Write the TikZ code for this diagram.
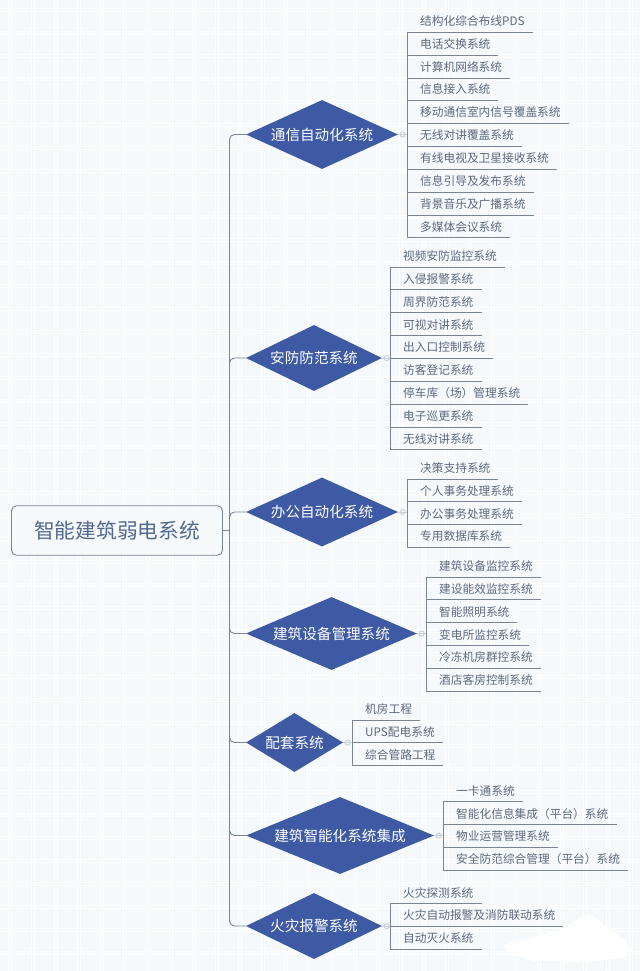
\documentclass[tikz,border=0pt]{standalone}
\usepackage{fontspec}
\newfontfamily\cjk{Noto Sans CJK SC}
\usetikzlibrary{shapes.geometric}
\definecolor{bgc}{HTML}{F5F9FC}
\definecolor{linec}{HTML}{7B8494}
\definecolor{leaftext}{HTML}{5E697E}
\definecolor{roottext}{HTML}{54688F}
\definecolor{rootfill}{HTML}{F6FAFC}
\definecolor{diamondc}{HTML}{3F5AA4}
\definecolor{hubc}{HTML}{C9CFD6}
\tikzset{
  leafnode/.style={font=\cjk\fontsize{11.7pt}{13pt}\selectfont, text=leaftext, inner sep=0pt, anchor=west, text height=9pt, text depth=2pt},
  twig/.style={draw=linec, line width=0.9pt},
  trunkline/.style={draw=linec, line width=0.9pt, rounded corners=5pt},
  hubline/.style={draw=hubc, line width=0.9pt},
  topicnode/.style={shape=diamond, fill=diamondc, text=white, inner sep=0pt, font=\cjk\fontsize{14.6pt}{16pt}\selectfont, shape aspect=2.2},
  rootnode/.style={draw=linec, line width=0.9pt, rounded corners=5pt, fill=rootfill, text=roottext, inner sep=0pt, font=\cjk\fontsize{20.7pt}{23pt}\selectfont, minimum width=211pt, minimum height=49.5pt}
}
\newcommand{\leafitem}[5]{%
  \coordinate (#1u) at (#2,#3);
  \coordinate (#1e) at (#4,#3);
  \node[leafnode] (#1) at ([xshift=13pt,yshift=10pt]#1u) {#5};
  \draw[twig] (#1u) -- (#1e);
}
% name, cx, cy, width, height, text
\newcommand{\topicitem}[6]{%
  \node[topicnode, minimum width=#4pt, minimum height=#5pt] (#1) at (#2,#3) {#6};
  \draw[trunkline] (trunk) |- (#1.west);
}
% topic, first leaf, last leaf
\newcommand{\hubitem}[3]{%
  \draw[hubline] (#1.east) -- (#1.east -| #2u);
  \draw[hubline] ([xshift=4.5pt]#1.east) circle (2.6pt);
  \draw[twig] (#2u) -- (#3u);
}
\begin{document}
\begin{tikzpicture}[x=1pt,y=-1pt]
\useasboundingbox (0,0) rectangle (640,971);
\fill[bgc] (0,0) rectangle (640,971);
\foreach \k in {0,...,28}{
  \draw[white, line width=0.6pt] ({10+23*\k-1.5},0) -- ({10+23*\k-1.5},971);
  \draw[white, line width=0.6pt] ({10+23*\k+1.5},0) -- ({10+23*\k+1.5},971);
}
\foreach \k in {0,...,42}{
  \draw[white, line width=0.6pt] (0,{10+23*\k-1.5}) -- (640,{10+23*\k-1.5});
  \draw[white, line width=0.6pt] (0,{10+23*\k+1.5}) -- (640,{10+23*\k+1.5});
}
% erased patch at the lower right
\fill[white, rounded corners=6pt] (500,946) -- (560,930) -- (590,913) -- (610,930) -- (628,942) -- (628,957) -- (590,962) -- (530,961) -- cycle;

\node[rootnode] (root) at (117,530.5) {智能建筑弱电系统};
\coordinate (trunk) at (229.5,530.5);
\draw[twig] (root.east) -- (trunk);

\topicitem{ta}{322}{134.5}{152}{69}{通信自动化系统}
\topicitem{tb}{314}{358}{136}{66}{安防防范系统}
\topicitem{tc}{322}{512}{152}{69}{办公自动化系统}
\topicitem{td}{331.5}{633.5}{171}{73}{建筑设备管理系统}
\topicitem{te}{294.5}{742.5}{97}{59}{配套系统}
\topicitem{tf}{340}{835.5}{188}{77}{建筑智能化系统集成}
\topicitem{tg}{314}{926}{136}{66}{火灾报警系统}

\leafitem{a1}{407}{32}{533}{结构化综合布线PDS}
\leafitem{a2}{407}{55}{498}{电话交换系统}
\leafitem{a3}{407}{78}{510}{计算机网络系统}
\leafitem{a4}{407}{100.5}{498}{信息接入系统}
\leafitem{a5}{407}{123.5}{569}{移动通信室内信号覆盖系统}
\leafitem{a6}{407}{146}{522}{无线对讲覆盖系统}
\leafitem{a7}{407}{169}{557}{有线电视及卫星接收系统}
\leafitem{a8}{407}{192}{534}{信息引导及发布系统}
\leafitem{a9}{407}{215}{534}{背景音乐及广播系统}
\leafitem{a10}{407}{237.5}{510}{多媒体会议系统}
\hubitem{ta}{a1}{a10}

\leafitem{b1}{390}{267}{505}{视频安防监控系统}
\leafitem{b2}{390}{289.5}{482}{入侵报警系统}
\leafitem{b3}{390}{312.5}{482}{周界防范系统}
\leafitem{b4}{390}{335.5}{482}{可视对讲系统}
\leafitem{b5}{390}{358}{493}{出入口控制系统}
\leafitem{b6}{390}{381}{482}{访客登记系统}
\leafitem{b7}{390}{404}{528}{停车库（场）管理系统}
\leafitem{b8}{390}{427}{482}{电子巡更系统}
\leafitem{b9}{390}{449.5}{482}{无线对讲系统}
\hubitem{tb}{b1}{b9}

\leafitem{c1}{407}{479}{498}{决策支持系统}
\leafitem{c2}{407}{501.5}{522}{个人事务处理系统}
\leafitem{c3}{407}{524.5}{522}{办公事务处理系统}
\leafitem{c4}{407}{547}{510}{专用数据库系统}
\hubitem{tc}{c1}{c4}

\leafitem{d1}{426}{577}{541}{建筑设备监控系统}
\leafitem{d2}{426}{599.5}{541}{建设能效监控系统}
\leafitem{d3}{426}{622.5}{517}{智能照明系统}
\leafitem{d4}{426}{645.5}{529}{变电所监控系统}
\leafitem{d5}{426}{668}{541}{冷冻机房群控系统}
\leafitem{d6}{426}{691}{541}{酒店客房控制系统}
\hubitem{td}{d1}{d6}

\leafitem{e1}{352}{720}{420}{机房工程}
\leafitem{e2}{352}{742.5}{443}{UPS配电系统}
\leafitem{e3}{352}{765.5}{443}{综合管路工程}
\hubitem{te}{e1}{e3}

\leafitem{f1}{443}{801.5}{523}{一卡通系统}
\leafitem{f2}{443}{824.5}{617}{智能化信息集成（平台）系统}
\leafitem{f3}{443}{847}{558}{物业运营管理系统}
\leafitem{f4}{443}{870}{628}{安全防范综合管理（平台）系统}
\hubitem{tf}{f1}{f4}

\leafitem{g1}{390}{903.5}{482}{火灾探测系统}
\leafitem{g2}{390}{926}{563}{火灾自动报警及消防联动系统}
\leafitem{g3}{390}{949}{482}{自动灭火系统}
\hubitem{tg}{g1}{g3}
\end{tikzpicture}
\end{document}
